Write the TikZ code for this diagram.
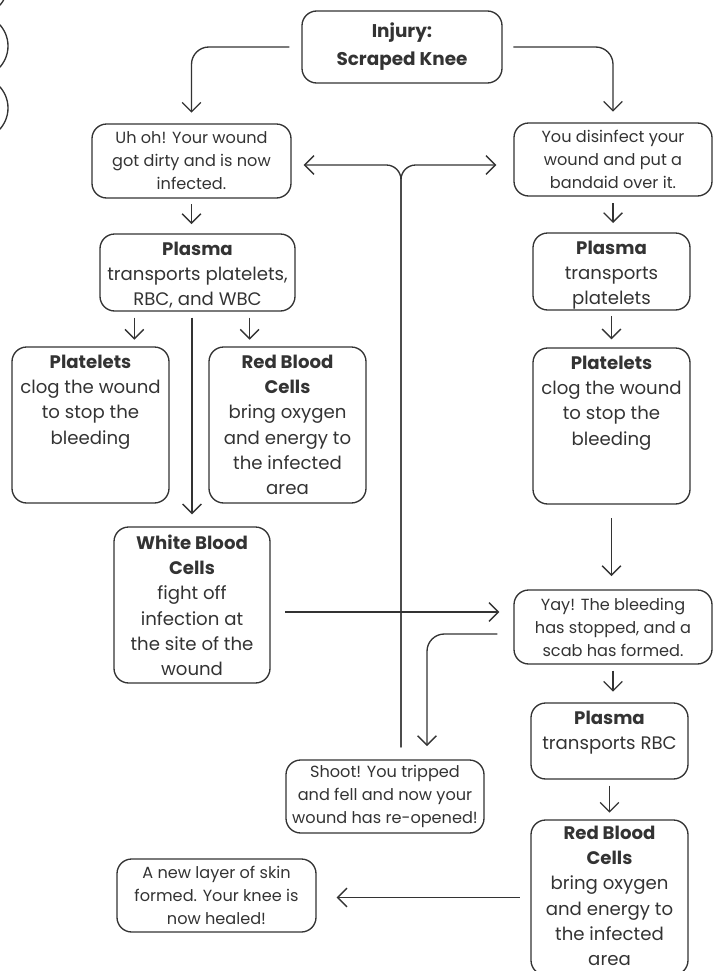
\documentclass[tikz,border=0pt]{standalone}
\usepackage{fontspec}
\setmainfont{Poppins}
\usetikzlibrary{arrows.meta}

\definecolor{ink}{HTML}{333333}

\tikzset{
  note/.style={draw=ink, line width=1pt, rounded corners=11pt, text=ink, align=center, inner sep=2pt, font=\fontsize{12.1}{17.25}\selectfont},
  card/.style={draw=ink, line width=1pt, rounded corners=11pt},
  tag/.style={anchor=north, yshift=-4.5pt, align=center, text=ink, inner sep=1.5pt, font=\fontsize{13.6}{19}\selectfont},
  boxsize/.style 2 args={minimum width=#1*0.75pt, minimum height=#2*0.75pt},
  flow/.style={draw=ink, line width=1pt, -{Straight Barb[length=7pt,width=14pt]}},
}

\begin{document}
\begin{tikzpicture}[x=0.75pt,y=-0.75pt]
  \useasboundingbox (0,0) rectangle (719,971);
  \clip (0,0) rectangle (719,971);

  % Add the cut off circles at the left edge
  \draw[ink, line width=1pt] (-23.6,-16) circle[radius=31.6];
  \draw[ink, line width=1pt] (-23.6,46) circle[radius=31.6];
  \draw[ink, line width=1pt] (-23.6,108) circle[radius=31.6];

  % Draw the boxes
  \node[card, boxsize={200}{72}, text=ink, align=center, font=\bfseries\fontsize{13.8}{21}\selectfont] (injury) at (402,47) {Injury:\\Scraped Knee};

  \node[note, boxsize={199}{74}] (dirty) at (191.5,161) {Uh oh! Your wound\\got dirty and is now\\infected.};
  \node[note, boxsize={198}{73}] (clean) at (613,159.5) {You disinfect your\\wound and put a\\bandaid over it.};

  \node[card, boxsize={195}{77}, label={[tag]north:{\textbf{Plasma}\\transports platelets,\\RBC, and WBC}}] (plasmaL) at (197.5,272.5) {};
  \node[card, boxsize={157}{77}, label={[tag]north:{\textbf{Plasma}\\transports\\platelets}}] (plasmaR) at (611.5,271.5) {};

  \node[card, boxsize={157}{156}, label={[tag]north:{\textbf{Platelets}\\clog the wound\\to stop the\\bleeding}}] (plateL) at (90.5,425) {};
  \node[card, boxsize={157}{156}, label={[tag]north:{\textbf{Red Blood}\\\textbf{Cells}\\bring oxygen\\and energy to\\the infected\\area}}] (rbcL) at (287.5,425) {};
  \node[card, boxsize={157}{156}, label={[tag]north:{\textbf{Platelets}\\clog the wound\\to stop the\\bleeding}}] (plateR) at (611.5,426) {};

  \node[card, boxsize={156}{156}, label={[tag]north:{\textbf{White Blood}\\\textbf{Cells}\\fight off\\infection at\\the site of the\\wound}}] (wbc) at (192,605) {};
  \node[note, boxsize={198}{74}] (yay) at (613,627) {Yay! The bleeding\\has stopped, and a\\scab has formed.};

  \node[card, boxsize={157}{76}, label={[tag]north:{\textbf{Plasma}\\transports RBC}}] (plasmaRBC) at (609.5,741) {};
  \node[note, boxsize={198}{73}] (shoot) at (385,796.5) {Shoot! You tripped\\and fell and now your\\wound has re-opened!};

  \node[card, boxsize={157}{155}, label={[tag, yshift=1.5pt]north:{\textbf{Red Blood}\\\textbf{Cells}\\bring oxygen\\and energy to\\the infected\\area}}] (rbcR) at (609.5,897.5) {};
  \node[note, boxsize={199}{73}] (healed) at (216.5,895.5) {A new layer of skin\\formed. Your knee is\\now healed!};

  % Points where the connectors leave or meet the boxes
  \coordinate (tapPlate) at ([xshift=26.25pt]plasmaL.south west);
  \coordinate (tapRed) at ([xshift=-34.5pt]plasmaL.south east);
  \coordinate (wbcOut) at ([yshift=-5.25pt]wbc.east);
  \coordinate (yayOut) at ([yshift=-5.25pt]yay.west);
  \coordinate (shootIn) at ([xshift=31.5pt]shoot.north);
  \coordinate (shootOut) at ([xshift=12pt]shoot.north);
  \coordinate (fork) at (401,165);

  % Add the arrows
  \draw[flow, rounded corners=13pt, shorten <=9pt, shorten >=8pt] (injury.west) -| (dirty.north);
  \draw[flow, rounded corners=13pt, shorten <=8pt, shorten >=8pt] (injury.east) -| (clean.north);

  \draw[flow, shorten <=4pt, shorten >=7pt] (dirty.south) -- (dirty.south |- plasmaL.north);
  \draw[flow, shorten <=5pt, shorten >=7pt] (clean.south) -- (clean.south |- plasmaR.north);

  \draw[flow, shorten <=4.5pt, shorten >=5pt] (tapPlate) -- (tapPlate |- plateL.north);
  \draw[flow, shorten <=4.5pt, shorten >=5pt] (tapRed) -- (tapRed |- rbcL.north);
  \draw[flow, shorten <=4.5pt, shorten >=9pt] (wbc.north |- plasmaL.south) -- (wbc.north);

  \draw[flow, shorten <=4pt, shorten >=6pt] (plasmaR.south) -- (plateR.north);
  \draw[flow, shorten <=10pt, shorten >=10pt] (plateR.south) -- (plateR.south |- yay.north);

  \draw[flow, shorten <=11pt, shorten >=10.5pt] (wbcOut) -- (wbcOut -| yay.west);
  \draw[flow, rounded corners=13pt, shorten <=12pt, shorten >=10pt] (yayOut) -| (shootIn);

  \draw[flow, shorten <=4.5pt, shorten >=8pt] (yay.south) -- (yay.south |- plasmaRBC.north);
  \draw[flow, shorten <=4.5pt, shorten >=5pt] (plasmaRBC.south) -- (plasmaRBC.south |- rbcR.north);
  \draw[flow, shorten <=8pt, shorten >=15pt] (rbcR.west) -- (rbcR.west -| healed.east);

  % The fall sends you back to either branch
  \draw[flow, rounded corners=11pt, shorten <=9pt, shorten >=9pt] (shootOut) |- (fork -| dirty.east);
  \draw[flow, rounded corners=11pt, shorten <=9pt, shorten >=12.75pt] (shootOut) |- (fork -| clean.west);
\end{tikzpicture}
\end{document}
